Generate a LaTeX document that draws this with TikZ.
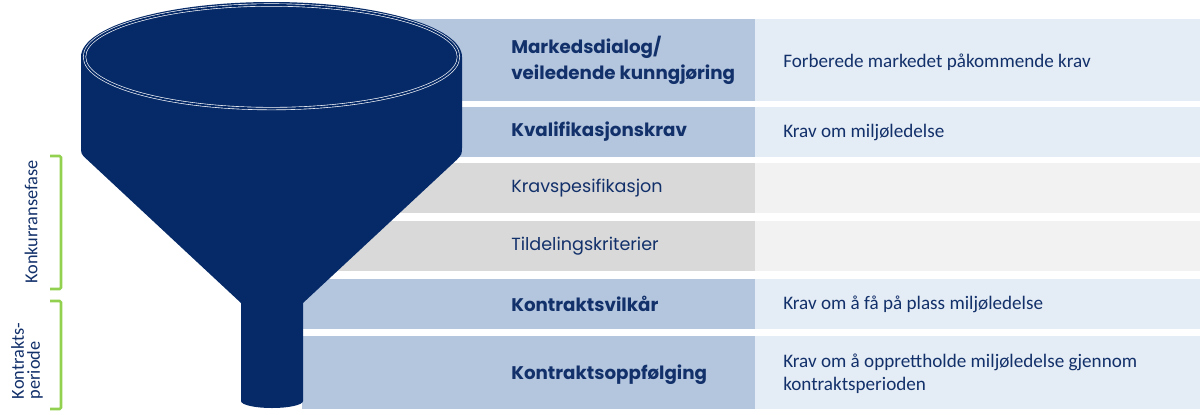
\documentclass[tikz,border=0pt]{standalone}
\usepackage{fontspec}
\setmainfont{Carlito}
\newfontfamily\gothic{Poppins}
\usetikzlibrary{positioning}
\definecolor{navy}{HTML}{062A68}
\definecolor{ink}{HTML}{12306A}
\definecolor{bluedark}{HTML}{B4C6DE}
\definecolor{bluelight}{HTML}{E4ECF5}
\definecolor{greydark}{HTML}{D9D9D9}
\definecolor{greylight}{HTML}{F2F2F2}
\definecolor{leaf}{HTML}{92D050}

\begin{document}
\begin{tikzpicture}[x=0.025cm,y=-0.025cm,
  stagebold/.style={anchor=west,inner sep=0pt,align=left,text=ink,font=\gothic\bfseries\fontsize{13}{18.4}\selectfont},
  stageplain/.style={anchor=west,inner sep=0pt,align=left,text=ink,font=\gothic\fontsize{12.5}{17}\selectfont},
  reqtext/.style={anchor=west,inner sep=0pt,align=left,text=ink,font=\fontsize{13.6}{16.3}\selectfont},
  sidetext/.style={rotate=90,inner sep=0pt,align=left,text=ink,font=\fontsize{13}{11.5}\selectfont},
  bracket/.style={draw=leaf,line width=1.8pt,rounded corners=1pt}]

            \useasboundingbox (0,0) rectangle (1200,414);

            % rows
            \foreach \top/\bot/\ca/\cb in {19/101/bluedark/bluelight,107/157/bluedark/bluelight,
                163/213/greydark/greylight,221/271/greydark/greylight,
                279/329/bluedark/bluelight,336/409/bluedark/bluelight} {
                \fill[\ca] (302,\top) rectangle (755,\bot);
                \fill[\cb] (755,\top) rectangle (1200,\bot);
            }

            \node[stagebold] (dialog) at (511,60) {Markedsdialog/\\veiledende kunngjøring};
            \node[stagebold] (kval) at (511,132) {Kvalifikasjonskrav};
            \node[stageplain] (spes) at (511,188) {Kravspesifikasjon};
            \node[stageplain] (tild) at (511,246) {Tildelingskriterier};
            \node[stagebold] (vilkar) at (511,304) {Kontraktsvilkår};
            \node[stagebold] (oppf) at (511,375) {Kontraktsoppfølging};

            \node[reqtext] (dialogreq) at (783,62) {Forberede markedet påkommende krav};
            \node[reqtext] (kvalreq) at (783,132) {Krav om miljøledelse};
            \node[reqtext] (vilkarreq) at (783,304) {Krav om å få på plass miljøledelse};
            \node[reqtext] (oppfreq) at (783,374) {Krav om å opprettholde miljøledelse gjennom\\kontraktsperioden};

            % funnel
            \fill[navy] (81,57) -- (81,146) .. controls (81,154) .. (87,159.5) -- (241,303)
                -- (241,401) arc[start angle=180,end angle=0,x radius=31,y radius=7]
                -- (303,303) -- (456,160.5) .. controls (462,154.5) .. (462,146)
                -- (462,57) arc[start angle=0,end angle=-180,x radius=190.5,y radius=55] -- cycle;
            \draw[white,line width=0.45pt,double=navy,double distance=1.3pt]
                (271.5,56.8) ellipse [x radius=187,y radius=51.8];

            % phases
            \draw[bracket] (50,156) -- (61,156) -- (61,289) -- (50,289);
            \draw[bracket] (50,301) -- (61,301) -- (61,409) -- (50,409);
            \node[sidetext] (konk) at (31,222) {Konkurransefase};
            \node[sidetext] (periode) at (27,361) {Kontrakts-\\periode};

        \end{tikzpicture}
\end{document}
